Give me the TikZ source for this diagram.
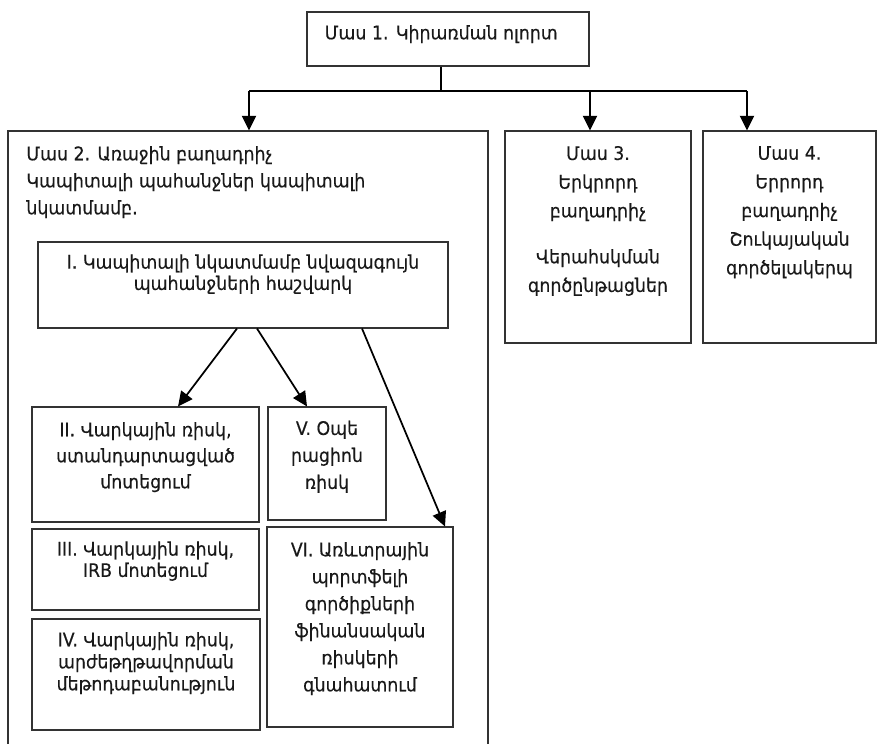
\documentclass[tikz,border=0pt]{standalone}
\usepackage{fontspec}
\setmainfont[FakeStretch=0.93,FakeBold=0.35]{DejaVu Sans}
\usetikzlibrary{positioning,fit,arrows.meta}

\begin{document}
\begin{tikzpicture}[x=0.75pt,y=-0.75pt,
    box/.style={draw=black!80,line width=0.8pt,inner sep=0pt},
    txt/.style={inner sep=0pt,align=center,text=black!90},
    tight/.style={font=\fontsize{14}{16}\selectfont},
    loose/.style={font=\fontsize{14}{20.25}\selectfont},
    link/.style={line width=0.8pt},
    arr/.style={line width=1.6pt,-{Triangle[length=11pt,width=10.5pt]}}
  ]
  \useasboundingbox (0,0) rectangle (877,743);
  % boxes
  \node[box,fit={(307,12) (589,66)}] (b1) {};
  \node[box,fit={(8,131) (488,770)}] (b2) {};
  \node[box,fit={(505,131) (691,343)}] (b3) {};
  \node[box,fit={(703,131) (876,343)}] (b4) {};
  \node[box,fit={(38,242) (448,328)}] (bI) {};
  \node[box,fit={(32,407) (259,522)}] (bII) {};
  \node[box,fit={(268,407) (386,520)}] (bV) {};
  \node[box,fit={(32,529) (259,610)}] (bIII) {};
  \node[box,fit={(32,619) (260,730)}] (bIV) {};
  \node[box,fit={(267,527) (453,727)}] (bVI) {};
  % texts
  \node[txt,loose,anchor=north west,below right=10pt and 13.5pt of b1.north west] (t1) {Մաս 1. Կիրառման ոլորտ};
  \node[txt,loose,align=left,anchor=north west,below right=11.5pt and 14pt of b2.north west] (t2)
    {Մաս 2. Առաջին բաղադրիչ\\Կապիտալի պահանջներ կապիտալի\\նկատմամբ.};
  \node[txt,font=\fontsize{14}{21.5}\selectfont,below=11.5pt of b3.north] (t3)
    {Մաս 3.\\Երկրորդ\\բաղադրիչ\\[13pt]Վերահսկման\\գործընթացներ};
  \node[txt,font=\fontsize{14}{21.5}\selectfont,below=11.5pt of b4.north] (t4)
    {Մաս 4.\\Երրորդ\\բաղադրիչ\\Շուկայական\\գործելակերպ};
  \node[txt,tight,below=9.5pt of bI.north] (tI)
    {I. Կապիտալի նկատմամբ նվազագույն\\պահանջների հաշվարկ};
  \node[txt,font=\fontsize{14}{19.5}\selectfont,below=11.5pt of bII.north] (tII)
    {II. Վարկային ռիսկ,\\ստանդարտացված\\մոտեցում};
  \node[txt,loose,below=10.5pt of bV.north] (tV) {V. Օպե\\րացիոն\\ռիսկ};
  \node[txt,tight,below=9.5pt of bIII.north] (tIII) {III. Վարկային ռիսկ,\\IRB մոտեցում};
  \node[txt,font=\fontsize{14}{16.5}\selectfont,below=10pt of bIV.north] (tIV)
    {IV. Վարկային ռիսկ,\\արժեթղթավորման\\մեթոդաբանություն};
  \node[txt,loose,below=11.5pt of bVI.north] (tVI)
    {VI. Առևտրային\\պորտֆելի\\գործիքների\\ֆինանսական\\ռիսկերի\\գնահատում};
  % connectors
  \coordinate (split) at (441,91);
  \coordinate (hl) at (249,91);
  \coordinate (hm) at (590,91);
  \coordinate (hr) at (747,91);
  \draw[link] (b1.south -| split) -- (split);
  \draw[link] (hl) -- (hr);
  \draw[arr] (hl) -- (b2.north -| hl);
  \draw[arr] (hm) -- (b3.north -| hm);
  \draw[arr] (hr) -- (b4.north -| hr);
  \draw[arr,line width=1.3pt] ([xshift=-4.5pt]bI.south) -- ([xshift=24.4pt]bII.north);
  \draw[arr,line width=1.3pt] ([xshift=10.5pt]bI.south) -- ([xshift=-15pt]bV.north);
  \draw[arr,line width=1.3pt] ([xshift=89.25pt]bI.south) -- ([xshift=63.75pt]bVI.north);
\end{tikzpicture}
\end{document}
